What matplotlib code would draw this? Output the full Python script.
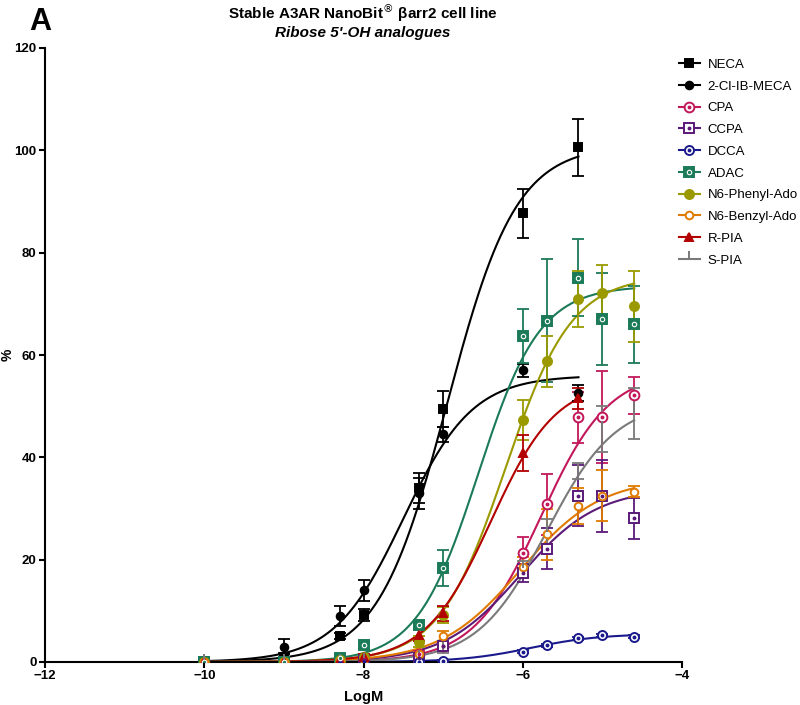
import matplotlib
matplotlib.use("Agg")
import matplotlib.pyplot as plt
import numpy as np
from matplotlib.lines import Line2D
from matplotlib.legend_handler import HandlerTuple

plt.rcParams["font.family"] = ["Liberation Sans", "DejaVu Sans"]

# log concentrations
X_SHORT = [-10, -9, -8.3, -8, -7.3, -7, -6, -5.3]
X_LONG = [-10, -9, -8.3, -8, -7.3, -7, -6, -5.7, -5.3, -5, -4.6]

NAMES = ["NECA", "2-Cl-IB-MECA", "CPA", "CCPA", "DCCA", "ADAC",
         "N6-Phenyl-Ado", "N6-Benzyl-Ado", "R-PIA", "S-PIA"]
COLORS = ["#000000", "#000000", "#c2185b", "#5a1a78", "#1a1a8c", "#1b7a57",
          "#9a9a00", "#e07b00", "#b30000", "#7a7a7a"]

neca_y = [0, 1.0, 5.1, 9.2, 34.0, 49.5, 87.7, 100.6]
neca_err = [0.4, 0.8, 0.6, 1.2, 3.0, 3.5, 4.8, 5.6]
clib_y = [0, 3.0, 9.0, 14.0, 33.0, 44.5, 57.0, 52.6]
clib_err = [0.3, 1.5, 2.0, 2.0, 3.0, 1.5, 1.3, 1.5]
cpa_y = [0, 0, 0.3, 0.5, 1.6, 3.2, 21.4, 30.8, 47.8, 47.8, 52.1]
cpa_err = [0, 0, 0.3, 0.3, 0.5, 0.8, 3.0, 6.0, 5.0, 9.0, 3.6]
ccpa_y = [0, 0, 0, 0.3, 0.8, 3.2, 17.4, 22.1, 32.5, 32.5, 28.1]
ccpa_err = [0, 0, 0, 0.3, 0.5, 0.8, 1.8, 4.0, 6.0, 7.0, 4.0]
dcca_y = [0, 0, 0, 0, 0, 0.25, 2.0, 3.3, 4.6, 5.2, 4.9]
dcca_err = [0, 0, 0, 0, 0, 0.1, 0.3, 0.3, 0.3, 0.3, 0.3]
adac_y = [0, 0, 0.8, 3.3, 7.2, 18.3, 63.7, 66.7, 75.1, 67.1, 66.0]
adac_err = [0, 0, 0.5, 0.5, 0.8, 3.5, 5.2, 12.0, 7.5, 9.0, 7.5]
phen_y = [0, 0, 0.3, 1.0, 4.0, 9.2, 47.3, 58.8, 70.9, 72.1, 69.5]
phen_err = [0, 0, 0.3, 0.5, 1.0, 1.5, 4.0, 5.0, 5.5, 5.5, 7.0]
benz_y = [0, 0, 0.2, 0.5, 1.5, 5.0, 18.5, 25.0, 30.5, 32.5, 33.3]
benz_err = [0, 0, 0.2, 0.3, 0.5, 1.0, 2.0, 5.0, 3.5, 5.0, 1.0]
rpia_y = [0, 0, 0.3, 1.0, 5.3, 9.5, 40.8, 51.5]
rpia_err = [0, 0, 0.3, 0.5, 1.2, 1.5, 3.5, 2.0]
spia_y = [0, 0, 0, 0.2, 0.8, 2.3, 18.3, 25.5, 37.3, 45.5, 48.6]
spia_err = [0, 0, 0, 0.2, 0.4, 0.6, 1.5, 2.5, 1.6, 4.5, 5.0]

# sigmoidal fit parameters: top, logEC50, hill slope
fit_top = [101, 56, 57, 34, 5.5, 73.5, 75.5, 36, 55, 51]
fit_ec50 = [-6.95, -7.5, -5.77, -6.03, -5.9, -6.56, -6.22, -6.03, -6.40, -5.70]
fit_hill = [1.0, 1.0, 1.02, 0.9, 1.0, 1.12, 1.04, 0.86, 1.06, 1.0]

series_x = [X_SHORT, X_SHORT, X_LONG, X_LONG, X_LONG, X_LONG, X_LONG, X_LONG, X_SHORT, X_LONG]
series_y = [neca_y, clib_y, cpa_y, ccpa_y, dcca_y, adac_y, phen_y, benz_y, rpia_y, spia_y]
series_e = [neca_err, clib_err, cpa_err, ccpa_err, dcca_err, adac_err, phen_err, benz_err, rpia_err, spia_err]

# marker, size, filled?, inner dot style
STYLES = [
    ("s", 5.5, "c", None),
    ("o", 5.5, "c", None),
    ("o", 7, "w", "o"),
    ("s", 7, "w", "s"),
    ("o", 6.5, "w", "o"),
    ("s", 7, "c", "x"),
    ("o", 6.5, "c", None),
    ("o", 5.5, "w", None),
    ("^", 5.5, "c", None),
    (2, 6, "c", None),
]

fig = plt.figure(figsize=(8.0, 7.05), dpi=100)
ax = fig.add_axes([45 / 800, 1 - 662 / 705, 637 / 800, 614 / 705])

handles = []
for i, name in enumerate(NAMES):
    c = COLORS[i]
    xs = np.array(series_x[i], dtype=float)
    ys = np.array(series_y[i], dtype=float)
    es = np.array(series_e[i], dtype=float)
    xc = np.linspace(-10, xs[-1], 300)
    yc = fit_top[i] / (1 + 10 ** (fit_hill[i] * (fit_ec50[i] - xc)))
    ax.plot(xc, yc, color=c, lw=1.5, zorder=2)
    mk, ms, face, inner = STYLES[i]
    mfc = c if face == "c" else "white"
    ax.errorbar(xs, ys, yerr=es, fmt="none", ecolor=c, elinewidth=1.3, capsize=4, capthick=1.3, zorder=3)
    ax.plot(xs, ys, ls="none", marker=mk, ms=ms, mfc=mfc, mec=c, mew=1.4, zorder=4)
    main_h = Line2D([], [], color=c, lw=1.5, marker=mk, ms=ms, mfc=mfc, mec=c, mew=1.4)
    if inner is not None:
        if inner == "x":
            ax.plot(xs, ys, ls="none", marker="o", ms=3.2, mfc=c, mec="white", mew=0.8, zorder=5)
            inner_h = Line2D([], [], ls="none", marker="o", ms=3.2, mfc=c, mec="white", mew=0.8)
        else:
            ax.plot(xs, ys, ls="none", marker="o", ms=1.8, mfc=c, mec=c, zorder=5)
            inner_h = Line2D([], [], ls="none", marker="o", ms=1.8, mfc=c, mec=c)
        handles.append((main_h, inner_h))
    else:
        handles.append(main_h)

ax.set_xlim(-12, -4)
ax.set_ylim(0, 120)
ax.set_xticks([-12, -10, -8, -6, -4])
ax.set_yticks([0, 20, 40, 60, 80, 100, 120])
for s in ["top", "right"]:
    ax.spines[s].set_visible(False)
for s in ["left", "bottom"]:
    ax.spines[s].set_linewidth(1.5)
ax.tick_params(width=1.5, length=4, labelsize=9.5, pad=2)
for lab in ax.get_xticklabels() + ax.get_yticklabels():
    lab.set_fontweight("bold")
ax.set_xlabel("LogM", fontsize=10.5, fontweight="bold")
ax.xaxis.set_label_coords(0.5, -0.045)
ax.set_ylabel("%", fontsize=10, fontweight="bold")
ax.yaxis.set_label_coords(-0.048, 0.5)

fig.text(363 / 800, 1 - 13 / 705, "Stable A3AR NanoBit$^{®}$ βarr2 cell line",
         ha="center", va="center", fontsize=11, fontweight="bold")
fig.text(363 / 800, 1 - 33 / 705, "Ribose 5'-OH analogues",
         ha="center", va="center", fontsize=11, fontweight="bold", style="italic")
fig.text(40 / 800, 1 - 22 / 705, "A", ha="center", va="center", fontsize=22, fontweight="bold")

fig.legend(handles, NAMES, loc="upper left", bbox_to_anchor=(676 / 800, 1 - 56 / 705),
           frameon=False, fontsize=9.5, handlelength=1.6, handletextpad=0.6, labelspacing=0.72,
           borderaxespad=0, borderpad=0.2,
           handler_map={tuple: HandlerTuple(ndivide=1)})

fig.savefig("out.png", dpi=100)
